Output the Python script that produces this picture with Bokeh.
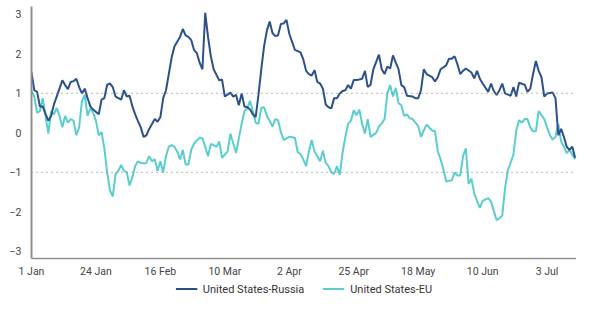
import numpy as np
from bokeh.plotting import figure
from bokeh.layouts import column
from bokeh.models import Legend, LegendItem, FixedTicker, Span, ColumnDataSource
from bokeh.embed import file_html
from bokeh.resources import INLINE

# x axis: days since 1 Jan (leap year)
tick_days = [0, 23, 46, 69, 92, 115, 138, 161, 184]
tick_labels = ["1 Jan", "24 Jan", "16 Feb", "10 Mar", "2 Apr", "25 Apr", "18 May", "10 Jun", "3 Jul"]
y_ticks = [-3, -2, -1, 0, 1, 2, 3]
ref_levels = [1, -1]

series_names = ["United States-Russia", "United States-EU"]
series_colors = ["#2c5089", "#5ccdcf"]

rus_days = [0, 1, 2, 3, 4, 5, 6, 7, 8, 9, 11, 12, 13, 14, 15, 16, 17, 18, 19, 20,
            21, 22, 24, 25, 26, 27, 28, 29, 30, 32, 33, 34, 35, 36, 37, 38, 39, 40, 41, 42,
            44, 45, 46, 47, 48, 49, 50, 51, 53, 54, 55, 56, 57, 58, 59, 60, 61, 62, 63, 64,
            65, 67, 68, 69, 71, 72, 73, 74, 75, 76, 77, 78, 79, 80, 81, 82, 83, 84, 85, 86,
            87, 88, 89, 90, 91, 92, 94, 96, 97, 98, 99, 100, 101, 102, 103, 104, 105, 106, 107, 108,
            109, 110, 111, 112, 113, 114, 115, 116, 117, 118, 119, 120, 121, 122, 124, 125, 126, 127, 128, 129,
            130, 131, 132, 133, 134, 136, 137, 138, 139, 140, 141, 143, 144, 145, 146, 148, 149, 150, 151, 152,
            153, 154, 155, 157, 158, 159, 160, 161, 163, 164, 165, 166, 167, 168, 169, 171, 172, 173, 174, 176,
            177, 178, 179, 180, 181, 182, 183, 184, 186, 187, 188, 189, 190, 191, 192, 193, 194]
rus_vals = [1.53, 1.08, 1.04, 0.67, 0.67, 0.48, 0.31, 0.43, 0.72, 0.92, 1.33, 1.21, 1.11, 1.29, 1.31, 1.37, 1.16, 1.00, 1.12, 0.88,
            0.67, 0.59, 0.47, 0.84, 0.88, 1.22, 1.25, 1.16, 0.92, 0.84, 1.08, 0.92, 0.94, 0.67, 0.47, 0.30, 0.14, -0.10, -0.06, 0.10,
            0.35, 0.28, 0.40, 0.88, 1.08, 1.49, 1.90, 2.19, 2.43, 2.63, 2.47, 2.43, 2.35, 2.10, 2.02, 1.78, 1.61, 3.04, 2.43, 1.94,
            1.61, 1.33, 1.35, 0.92, 1.02, 0.92, 0.96, 0.70, 1.00, 0.67, 0.65, 0.59, 0.47, 0.40, 0.96, 1.61, 2.19, 2.59, 2.82, 2.53,
            2.45, 2.47, 2.76, 2.77, 2.86, 2.51, 2.10, 2.04, 1.86, 1.57, 1.49, 1.45, 1.59, 1.29, 1.25, 1.12, 0.72, 0.65, 0.62, 0.88,
            0.88, 1.00, 1.06, 1.08, 1.21, 1.12, 1.34, 1.34, 1.35, 1.37, 1.57, 1.16, 1.22, 1.61, 1.98, 1.61, 1.49, 1.68, 1.63, 1.96,
            1.78, 1.61, 1.21, 1.16, 0.94, 0.92, 0.88, 0.88, 1.08, 1.61, 1.49, 1.41, 1.30, 1.41, 1.61, 1.71, 1.88, 1.88, 1.94, 1.74,
            1.49, 1.57, 1.63, 1.53, 1.38, 1.57, 1.37, 1.25, 1.04, 1.25, 1.06, 0.96, 1.08, 1.25, 1.00, 0.94, 1.16, 0.92, 1.27, 1.22,
            1.04, 1.12, 1.49, 1.82, 1.57, 1.41, 0.92, 1.00, 1.02, 0.88, -0.06, 0.10, -0.10, -0.35, -0.43, -0.35, -0.63]

eu_days = [0, 1, 2, 3, 4, 5, 6, 7, 8, 9, 10, 11, 12, 13, 14, 15, 16, 17, 18, 19,
           20, 21, 22, 23, 24, 25, 26, 27, 28, 29, 30, 31, 32, 33, 34, 35, 36, 37, 38, 39,
           40, 41, 42, 43, 44, 45, 46, 47, 48, 49, 50, 51, 52, 53, 54, 55, 56, 57, 58, 60,
           61, 62, 63, 64, 65, 66, 67, 68, 70, 71, 72, 73, 74, 75, 76, 77, 78, 79, 80, 81,
           82, 83, 84, 85, 86, 87, 88, 89, 90, 91, 92, 94, 95, 96, 97, 98, 99, 100, 101, 102,
           103, 104, 105, 106, 107, 108, 109, 110, 111, 112, 113, 114, 115, 116, 117, 118, 119, 120, 121, 123,
           124, 125, 126, 127, 128, 129, 130, 131, 132, 133, 134, 135, 136, 138, 139, 140, 141, 143, 144, 145,
           146, 147, 148, 150, 151, 152, 153, 154, 155, 156, 157, 158, 159, 160, 161, 163, 164, 165, 166, 167,
           168, 169, 170, 171, 172, 173, 174, 175, 176, 177, 178, 179, 180, 181, 183, 184, 185, 186, 187, 188,
           189, 190, 191, 192, 193, 194]
eu_vals = [1.06, 0.92, 0.51, 0.55, 0.88, 0.43, -0.02, 0.55, 0.47, 0.63, 0.43, 0.14, 0.43, 0.26, 0.35, 0.31, -0.06, 0.14, 0.80, 0.96,
           0.43, 0.63, 0.51, 0.31, -0.06, 0.02, -0.39, -1.00, -1.45, -1.61, -1.04, -0.96, -0.81, -0.96, -1.00, -1.33, -1.12, -0.84, -0.72, -0.76,
           -0.77, -0.76, -0.59, -0.72, -0.67, -0.96, -0.72, -1.00, -0.59, -0.35, -0.31, -0.35, -0.47, -0.67, -0.43, -0.80, -0.80, -0.43, -0.27, -0.12,
           -0.14, -0.35, -0.59, -0.28, -0.31, -0.35, -0.22, -0.63, -0.47, -0.02, -0.27, -0.51, -0.14, 0.23, 0.55, 0.63, 0.81, 0.55, 0.26, 0.23,
           0.63, 0.65, 0.43, 0.30, 0.16, 0.35, 0.32, 0.02, -0.18, -0.14, -0.10, -0.12, -0.49, -0.53, -0.67, -0.84, -0.47, -0.18, -0.47, -0.59,
           -0.72, -0.45, -0.76, -0.84, -1.00, -1.04, -0.84, -1.06, -0.51, -0.10, 0.23, 0.31, 0.57, 0.45, 0.59, 0.23, -0.02, 0.35, -0.10, 0.00,
           0.16, 0.24, 0.35, 1.00, 1.21, 0.92, 1.14, 0.75, 0.70, 0.43, 0.47, 0.37, 0.35, 0.18, -0.10, 0.06, 0.21, 0.06, 0.04, -0.47,
           -0.67, -0.92, -1.23, -1.20, -1.00, -1.08, -1.08, -0.59, -0.39, -1.29, -1.16, -1.53, -1.72, -1.90, -1.72, -1.65, -1.74, -1.98, -2.21, -2.16,
           -2.10, -1.40, -0.95, -0.75, -0.55, 0.06, 0.32, 0.26, 0.35, 0.35, 0.14, 0.04, 0.04, 0.55, 0.35, 0.14, -0.06, -0.17, -0.10, 0.23,
           -0.22, -0.35, -0.51, -0.43, -0.55, -0.67]

FONT = "Roboto"
LEFT = 31

p = figure(width=576, height=280, output_backend="svg", toolbar_location=None,
           x_range=(0, 194.5), y_range=(-3.18, 3.2),
           min_border_left=LEFT, min_border_right=0, min_border_top=6, min_border_bottom=19)
p.outline_line_color = None
p.grid.visible = False

for lv in ref_levels:
    p.add_layout(Span(location=lv, dimension="width", line_color="#8a8a8a",
                      line_dash="1 4", line_width=1.2))

src_r = ColumnDataSource(dict(x=rus_days, y=rus_vals))
src_e = ColumnDataSource(dict(x=eu_days, y=eu_vals))
p.line("x", "y", source=src_e, line_color=series_colors[1], line_width=2)
p.line("x", "y", source=src_r, line_color=series_colors[0], line_width=2)

p.xaxis.ticker = FixedTicker(ticks=tick_days)
p.xaxis.major_label_overrides = {d: l for d, l in zip(tick_days, tick_labels)}
p.yaxis.ticker = FixedTicker(ticks=y_ticks)
for ax in (p.xaxis, p.yaxis):
    ax.major_tick_line_color = None
    ax.minor_tick_line_color = None
    ax.major_tick_out = 0
    ax.major_tick_in = 0
    ax.minor_tick_out = 0
    ax.minor_tick_in = 0
    ax.axis_line_color = "#8f8f8f"
    ax.major_label_text_font = FONT
    ax.major_label_text_font_size = "10.5px"
    ax.major_label_text_color = "#444444"
p.yaxis.axis_line_width = 2
p.xaxis.axis_line_width = 1.5
p.yaxis.major_label_standoff = 10
p.xaxis.major_label_standoff = 6

# legend strip below the chart (its sample lines lie outside the strip's ranges)
lf = figure(width=576, height=17, output_backend="svg", toolbar_location=None,
            x_range=(0, 1), y_range=(0, 1),
            min_border_left=LEFT, min_border_right=0, min_border_top=0, min_border_bottom=0)
lf.outline_line_color = None
lf.grid.visible = False
lf.axis.visible = False
leg_r = lf.line(x=[-5, -4], y=[-5, -5], line_color=series_colors[0], line_width=2)
leg_e = lf.line(x=[-5, -4], y=[-5, -5], line_color=series_colors[1], line_width=2)
legend = Legend(items=[LegendItem(label=series_names[0], renderers=[leg_r]),
                       LegendItem(label=series_names[1], renderers=[leg_e])],
                orientation="horizontal", location="center",
                border_line_color=None, background_fill_alpha=0,
                label_text_font=FONT, label_text_font_size="11px", label_text_color="#333333",
                glyph_width=22, glyph_height=12, spacing=18, padding=0, margin=0,
                label_standoff=6)
lf.add_layout(legend, "center")

layout = column(p, lf, spacing=0)
open("out.html", "w").write(file_html(layout, INLINE))
